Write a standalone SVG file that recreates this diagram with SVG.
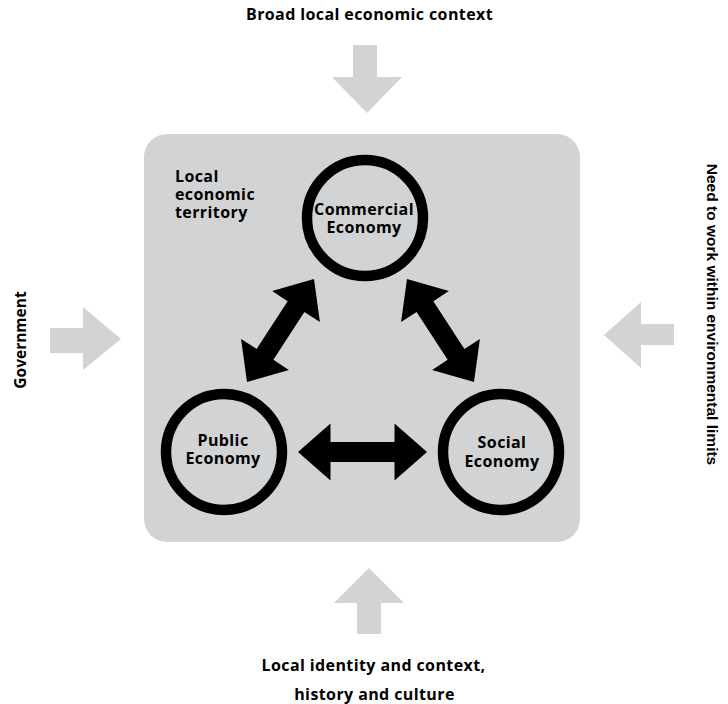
<svg xmlns="http://www.w3.org/2000/svg" width="728" height="704" viewBox="0 0 728 704">
<style>
.lbl{font-family:"Open Sans","Noto Sans",sans-serif;font-weight:700;font-size:16px;letter-spacing:0.4px;fill:#000}
.gov{font-family:"Open Sans","Noto Sans",sans-serif;font-weight:700;font-size:15.5px;fill:#000}
.lbl2{font-family:"Liberation Sans",Arial,sans-serif;font-weight:700;font-size:15.5px;fill:#000}
.ring{fill:none;stroke:#000;stroke-width:10.5}
.garrow{fill:#d2d3d5}
.darrow{fill:#000}
</style>
<rect width="728" height="704" fill="#fff"/>
<g id="territory">
<rect x="144" y="134" width="436" height="408" rx="23" fill="#d2d3d5"/>
<text class="lbl" x="175" y="182">Local</text>
<text class="lbl" x="175" y="200">economic</text>
<text class="lbl" x="175" y="218">territory</text>
</g>
<g id="external-forces">
<g id="broad-context">
<polygon class="garrow" points="353,45 377,45 377,77 402,77 367,113 332,77 353,77"/>
<text class="lbl" x="369.5" y="20" text-anchor="middle">Broad local economic context</text>
</g>
<g id="government">
<polygon class="garrow" points="50,328 83,328 83,307 121,339 83,370 83,353 50,353"/>
<text class="gov" transform="translate(26,340) rotate(-90)" text-anchor="middle">Government</text>
</g>
<g id="environment">
<polygon class="garrow" points="674,324 641,324 641,302 604,335 641,368 641,345 674,345"/>
<text class="lbl2" transform="translate(707,314.5) rotate(90)" text-anchor="middle">Need to work within environmental limits</text>
</g>
<g id="identity">
<polygon class="garrow" points="357,634 381,634 381,603 404,603 369,568 334,603 357,603"/>
<text class="lbl" x="373.5" y="671" text-anchor="middle">Local identity and context,</text>
<text class="lbl" x="374.5" y="700" text-anchor="middle">history and culture</text>
</g>
</g>
<g id="commercial">
<circle class="ring" cx="365" cy="218" r="58"/>
<text class="lbl" x="364" y="215" text-anchor="middle">Commercial</text>
<text class="lbl" x="364" y="233" text-anchor="middle">Economy</text>
</g>
<g id="public">
<circle class="ring" cx="224" cy="452" r="58"/>
<text class="lbl" x="223" y="446" text-anchor="middle">Public</text>
<text class="lbl" x="223" y="464" text-anchor="middle">Economy</text>
</g>
<g id="social">
<circle class="ring" cx="501" cy="452" r="58"/>
<text class="lbl" x="502" y="448" text-anchor="middle">Social</text>
<text class="lbl" x="502" y="467" text-anchor="middle">Economy</text>
</g>
<g id="connectors">
<path class="darrow" transform="translate(362.5,452)" d="M-64.5 0 L-32 -28.5 L-32 -10 L32 -10 L32 -28.5 L64.5 0 L32 28.5 L32 10 L-32 10 L-32 28.5 Z"/>
<path class="darrow" transform="translate(280.5,330.5) rotate(-57)" d="M-61.5 0 L-28.5 -28.5 L-28.5 -10 L28.5 -10 L28.5 -28.5 L61.5 0 L28.5 28.5 L28.5 10 L-28.5 10 L-28.5 28.5 Z"/>
<path class="darrow" transform="translate(440.5,330.5) rotate(57)" d="M-61.5 0 L-28.5 -28.5 L-28.5 -10 L28.5 -10 L28.5 -28.5 L61.5 0 L28.5 28.5 L28.5 10 L-28.5 10 L-28.5 28.5 Z"/>
</g>
</svg>
